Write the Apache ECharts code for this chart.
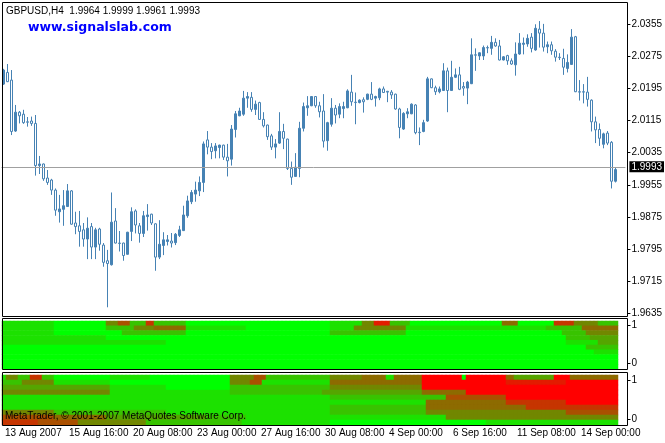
<!DOCTYPE html>
<html><head><meta charset="utf-8">
<script src="https://cdn.jsdelivr.net/npm/echarts@6/dist/echarts.min.js"></script>
<style>html,body{margin:0;padding:0;background:#fff}#c{width:665px;height:443px}</style>
</head><body><div id="c"></div>
<script>
// ---- data ----
const opens = [2.0206,2.0235,2.0216,2.0089,2.0136,2.0131,2.0112,2.0114,2.0108,2.0003,2.0007,1.9972,1.9967,1.9942,1.9888,1.9894,1.9901,1.9940,1.9860,1.9853,1.9843,1.9820,1.9851,1.9800,1.9845,1.9805,1.9766,1.9756,1.9865,1.9810,1.9810,1.9782,1.9839,1.9890,1.9853,1.9834,1.9876,1.9882,1.9858,1.9775,1.9804,1.9814,1.9815,1.9811,1.9829,1.9841,1.9878,1.9913,1.9932,1.9940,1.9961,2.0067,2.0049,2.0040,2.0048,2.0054,2.0024,2.0019,2.0093,2.0127,2.0131,2.0171,2.0173,2.0143,2.0160,2.0118,2.0104,2.0077,2.0049,2.0059,2.0088,2.0069,1.9996,1.9976,1.9996,2.0096,2.0147,2.0152,2.0175,2.0152,2.0139,2.0065,2.0106,2.0146,2.0131,2.0145,2.0147,2.0186,2.0161,2.0160,2.0167,2.0168,2.0181,2.0171,2.0172,2.0194,2.0188,2.0186,2.0181,2.0144,2.0094,2.0132,2.0132,2.0154,2.0086,2.0088,2.0114,2.0219,2.0197,2.0187,2.0190,2.0239,2.0190,2.0223,2.0229,2.0200,2.0196,2.0207,2.0279,2.0276,2.0276,2.0297,2.0295,2.0310,2.0301,2.0266,2.0277,2.0264,2.0254,2.0281,2.0305,2.0306,2.0323,2.0291,2.0343,2.0333,2.0299,2.0304,2.0288,2.0273,2.0270,2.0245,2.0255,2.0324,2.0187,2.0187,2.0186,2.0166,2.0112,2.0093,2.0056,2.0084,2.0061,1.9964];
const highs = [2.0244,2.0256,2.0241,2.0154,2.0139,2.0142,2.0124,2.0125,2.0129,2.0027,2.0008,1.9992,1.9970,1.9946,1.9930,1.9942,1.9957,1.9942,1.9888,1.9890,1.9860,1.9874,1.9860,1.9848,1.9848,1.9810,1.9793,1.9936,1.9897,1.9840,1.9811,1.9838,1.9899,1.9894,1.9860,1.9890,1.9907,1.9883,1.9859,1.9867,1.9837,1.9830,1.9835,1.9835,1.9853,1.9903,1.9928,1.9942,1.9963,1.9976,2.0063,2.0089,2.0059,2.0059,2.0055,2.0055,2.0057,2.0104,2.0139,2.0147,2.0189,2.0186,2.0186,2.0165,2.0162,2.0136,2.0105,2.0082,2.0069,2.0136,2.0107,2.0070,2.0013,2.0034,2.0112,2.0160,2.0176,2.0176,2.0176,2.0162,2.0181,2.0112,2.0171,2.0154,2.0158,2.0162,2.0193,2.0229,2.0185,2.0168,2.0173,2.0182,2.0211,2.0177,2.0197,2.0200,2.0189,2.0191,2.0182,2.0147,2.0136,2.0146,2.0158,2.0156,2.0098,2.0117,2.0224,2.0220,2.0202,2.0200,2.0258,2.0247,2.0264,2.0245,2.0249,2.0211,2.0214,2.0320,2.0295,2.0285,2.0302,2.0302,2.0326,2.0320,2.0316,2.0276,2.0279,2.0270,2.0310,2.0333,2.0322,2.0330,2.0333,2.0355,2.0363,2.0356,2.0312,2.0312,2.0293,2.0283,2.0294,2.0280,2.0343,2.0326,2.0216,2.0206,2.0224,2.0168,2.0125,2.0108,2.0085,2.0089,2.0064,1.9999];
const lows = [2.0204,2.0211,2.0079,2.0087,2.0108,2.0107,2.0100,2.0102,1.9978,1.9982,1.9965,1.9955,1.9930,1.9878,1.9861,1.9853,1.9900,1.9856,1.9832,1.9801,1.9801,1.9770,1.9770,1.9770,1.9791,1.9751,1.9650,1.9754,1.9809,1.9789,1.9766,1.9781,1.9815,1.9834,1.9811,1.9825,1.9841,1.9855,1.9741,1.9770,1.9780,1.9804,1.9799,1.9805,1.9825,1.9840,1.9873,1.9907,1.9913,1.9927,1.9937,2.0031,2.0019,2.0021,2.0021,2.0017,1.9976,2.0003,2.0073,2.0126,2.0127,2.0147,2.0137,2.0129,2.0117,2.0098,2.0067,2.0042,2.0021,2.0057,2.0044,1.9992,1.9955,1.9975,1.9974,2.0088,2.0127,2.0151,2.0147,2.0123,2.0048,2.0040,2.0100,2.0108,2.0121,2.0121,2.0146,2.0152,2.0106,2.0158,2.0135,2.0166,2.0166,2.0150,2.0166,2.0184,2.0161,2.0169,2.0142,2.0071,2.0092,2.0121,2.0131,2.0081,2.0054,2.0086,2.0112,2.0196,2.0179,2.0183,2.0189,2.0136,2.0189,2.0221,2.0191,2.0177,2.0156,2.0206,2.0239,2.0266,2.0266,2.0283,2.0279,2.0299,2.0265,2.0265,2.0254,2.0254,2.0227,2.0279,2.0280,2.0299,2.0285,2.0289,2.0297,2.0287,2.0283,2.0279,2.0262,2.0266,2.0229,2.0235,2.0254,2.0186,2.0165,2.0158,2.0150,2.0088,2.0059,2.0052,2.0046,2.0054,1.9946,1.9961];
const closes = [2.0241,2.0212,2.0088,2.0136,2.0127,2.0110,2.0111,2.0108,2.0003,2.0007,1.9970,1.9961,1.9942,1.9892,1.9895,1.9903,1.9940,1.9857,1.9851,1.9839,1.9820,1.9847,1.9800,1.9843,1.9807,1.9762,1.9759,1.9862,1.9810,1.9809,1.9779,1.9837,1.9888,1.9855,1.9834,1.9878,1.9880,1.9860,1.9775,1.9807,1.9818,1.9818,1.9810,1.9832,1.9843,1.9880,1.9915,1.9936,1.9942,1.9961,2.0057,2.0049,2.0038,2.0052,2.0054,2.0024,2.0015,2.0094,2.0132,2.0139,2.0171,2.0175,2.0143,2.0156,2.0118,2.0102,2.0075,2.0049,2.0057,2.0088,2.0071,1.9996,1.9974,1.9999,2.0096,2.0150,2.0152,2.0175,2.0152,2.0137,2.0064,2.0110,2.0146,2.0129,2.0150,2.0150,2.0189,2.0162,2.0160,2.0166,2.0162,2.0181,2.0168,2.0175,2.0194,2.0185,2.0186,2.0179,2.0144,2.0098,2.0133,2.0137,2.0156,2.0085,2.0085,2.0110,2.0219,2.0197,2.0187,2.0194,2.0239,2.0190,2.0223,2.0229,2.0193,2.0196,2.0211,2.0279,2.0278,2.0284,2.0297,2.0296,2.0310,2.0301,2.0266,2.0274,2.0264,2.0256,2.0281,2.0308,2.0308,2.0320,2.0295,2.0345,2.0333,2.0298,2.0304,2.0289,2.0273,2.0272,2.0248,2.0260,2.0323,2.0187,2.0186,2.0186,2.0168,2.0112,2.0092,2.0071,2.0082,2.0059,1.9964,1.9993];
const priceTicks = [1.9635,1.9715,1.9795,1.9875,1.9955,2.0035,2.0115,2.0195,2.0275,2.0355];
const xTickLabels = ['13 Aug 2007','15 Aug 16:00','20 Aug 08:00','23 Aug 00:00','27 Aug 16:00','30 Aug 08:00','4 Sep 00:00','6 Sep 16:00','11 Sep 08:00','14 Sep 00:00'];
const lastPrice = 1.9993;
const headerText = 'GBPUSD,H4  1.9964 1.9999 1.9961 1.9993';
const siteText = 'www.signalslab.com';
const copyText = 'MetaTrader, \u00a9 2001-2007 MetaQuotes Software Corp.';
const subTicks = [0, 1];
// heat levels 0 (green) .. 9 (red); one string per row, top row first, one digit per bar
const panel1Rows = [
 '1111111111 1110000000 0000004446 6622227722 2222220000 0000000000 0000000000 0000000000 0011111111 4448888222 2200000000 0000000000 0000055550 0000000077 7774444442 2222',
 '1111111111 1110000000 0000002222 2224444455 5555551111 1111111111 1000000000 0000000000 0011111144 4444444444 4111111111 1111111111 1111111111 1111112222 2222255555 5555',
 '1111111111 1110000000 0000000000 2222222222 2222220000 0000000000 0000000000 0000000000 0022222222 2222222222 2000000000 0000000000 0000000000 0000000000 2222224444 4444',
 '1111111111 1111111111 1111110000 0000000000 0000000000 0000000000 0000000000 0000000000 0000000000 0000000000 0000000000 0000000000 0000000000 0000000000 0222222333 3333',
 '1111111111 1111111111 1111111111 1111111111 1000000000 0000000000 0000000000 0000000000 0000000000 0000000000 0000000000 0000000000 0000000000 0000000000 0111111113 3333',
 '0000000000 0000000000 0000000000 0000000000 0000000000 0000000000 0000000000 0000000000 0000000000 0000000000 0000000000 0000000000 0000000000 0000000000 0000002222 2222',
 '0000000000 0000000000 0000000000 0000000000 0000000000 0000000000 0000000000 0000000000 0000000000 0000000000 0000000000 0000000000 0000000000 0000000000 0000000011 1111',
 '0000000000 0000000000 0000000000 0000000000 0000000000 0000000000 0000000000 0000000000 0000000000 0000000000 0000000000 0000000000 0000000000 0000000000 0000000000 0000',
 '0000000000 0000000000 0000000000 0000000000 0000000000 0000000000 0000000000 0000000000 0000000000 0000000000 0000000000 0000000000 0000000000 0000000000 0000000000 0000',
 '0000000000 0000000000 0000000000 0000000000 0000000000 0000000000 0000000000 0000000000 0000000000 0000000000 0000000000 0000000000 0000000000 0000000000 0000000000 0000'
];
const panel2Rows = [
 '1444222777 2220000000 0000000111 1111111000 0000000000 0000000444 4446662222 2222222222 2244444444 5555551155 5555599999 9999909999 9999995533 3333333399 9955555555 5555',
 '2222244444 4441111111 1111111000 0000000000 0000000000 0000000444 4466611111 1111111111 1155555555 5555555555 5555599999 9999999999 9999998888 8888888888 8999999999 9999',
 '3333333333 3333333333 3333333111 1111111111 1000000000 0000000222 2222222222 2222222222 2244444444 4444444444 4444499999 9999999999 9999999999 9999999999 9999999999 9999',
 '4444444444 4444444444 4444444111 1111111111 1111111111 1111111222 2222222222 2222222222 3333333333 3333333333 3333355555 5555559999 9999999999 9999999999 9999999999 9999',
 '1111111111 1111111111 1111111111 1111111111 1111111111 1111111111 1111111111 1111111111 1122222222 2222222222 2222222222 2666666666 6666669999 9999999999 9999999999 9999',
 '1111111111 1111111111 1111111111 1111111111 1111111111 1111111111 1111111111 1111111111 1111111111 1111111111 1111115555 5555555555 5555557777 7777777777 7999999999 9999',
 '1111111111 1111111111 1111111111 1111111111 1111111111 1111111111 1111111111 1111111111 1122222222 2222222222 2222225555 5555555555 5555555555 5777777777 7777777777 7777',
 '4444444444 4442222222 2222222222 2222222222 2111111111 1111111111 1111111111 1111111111 1122222222 2222222222 2222224444 4444444444 4444444444 4444444444 4666666666 6666',
 '6666666666 6665555555 5555553333 3333333333 3333333333 3222222222 2111111111 1111111111 1111111111 1111111111 1111111111 1444444444 4444444444 4444444444 4444444444 4444',
 '7777777776 6666666664 4444444444 4444442222 2222222222 2222222222 1111111111 1111111111 1100000000 0000000000 0000000000 0000000000 0111111111 1111111111 1111111111 1111'
];

// ---- fonts ----
function hasFont(f){const c=document.createElement('canvas').getContext('2d');c.font='20px monospace';const a=c.measureText('1.9955 Aug Sep').width;c.font='20px "'+f+'", monospace';return c.measureText('1.9955 Aug Sep').width!==a;}
const narrow = hasFont('Liberation Sans Narrow');
const FONT = narrow ? '"Liberation Sans Narrow", sans-serif' : '"Liberation Sans", sans-serif';
const FS = narrow ? 11 : 10;

// ---- build ----
const nBars = opens.length;
const cats = [];
for (let i = 0; i < nBars + 2; i++) cats.push(String(i));
const candleData = opens.map((o, i) => [o, closes[i], lows[i], highs[i]]);
function heatData(rows){
  const out = [];
  rows.forEach((r, ri) => { r.replace(/\s/g,'').split('').forEach((ch, ci) => out.push([ci, ri, +ch])); });
  return out;
}
const rowCats = panel1Rows.map((_, i) => String(i));

const chart = echarts.init(document.getElementById('c'), null, {renderer:'canvas'});
const labelStyle = {color:'#000', fontFamily:FONT, fontSize:FS};
chart.setOption({
  animation:false,
  backgroundColor:'#fff',
  grid:[
    {left:1.5, top:2, width:624, height:314},
    {left:2, top:321, width:624, height:48},
    {left:2, top:375, width:624, height:50}
  ],
  xAxis:[
    {type:'category', gridIndex:0, data:cats, show:false, boundaryGap:true},
    {type:'category', gridIndex:1, data:cats, show:false, boundaryGap:true},
    {type:'category', gridIndex:2, data:cats, boundaryGap:true,
      axisLine:{show:false},
      axisTick:{show:true, alignWithLabel:true, interval:15, length:4, inside:false, lineStyle:{color:'#000'}},
      axisLabel:Object.assign({interval:15, align:'left', margin:3, padding:[0,0,0,1],
        formatter:(v, idx) => (idx % 16 === 0 && xTickLabels[idx/16]) ? xTickLabels[idx/16] : ''}, labelStyle),
      splitLine:{show:false}}
  ],
  yAxis:[
    {type:'value', gridIndex:0, position:'right', offset:2, min:1.96283, max:2.04105, scale:true,
      axisLine:{show:false}, splitLine:{show:false},
      axisTick:{show:true, length:3, lineStyle:{color:'#000'}, customValues:priceTicks},
      axisLabel:Object.assign({margin:4, customValues:priceTicks, formatter:v => v.toFixed(4)}, labelStyle)},
    {type:'category', gridIndex:1, data:rowCats, inverse:true, show:false},
    {type:'value', gridIndex:1, position:'right', offset:1.5, min:-0.1488, max:1.1044,
      axisLine:{show:false}, splitLine:{show:false},
      axisTick:{show:true, length:3, lineStyle:{color:'#000'}, customValues:subTicks},
      axisLabel:Object.assign({margin:4, customValues:subTicks, formatter:v => String(v)}, labelStyle)},
    {type:'category', gridIndex:2, data:rowCats, inverse:true, show:false},
    {type:'value', gridIndex:2, position:'right', offset:1.5, min:-0.145, max:1.127,
      axisLine:{show:false}, splitLine:{show:false},
      axisTick:{show:true, length:3, lineStyle:{color:'#000'}, customValues:subTicks},
      axisLabel:Object.assign({margin:4, customValues:subTicks, formatter:v => String(v)}, labelStyle)}
  ],
  visualMap:{show:false, type:'continuous', min:0, max:9, seriesIndex:[1,2], dimension:2,
    inRange:{color:['#00ff00','#7f7800','#ff0000']}},
  series:[
    {type:'candlestick', xAxisIndex:0, yAxisIndex:0, data:candleData, barWidth:2,
      itemStyle:{color:'#4682b4', color0:'#ffffff', borderColor:'#4682b4', borderColor0:'#4682b4', borderWidth:1},
      markLine:{silent:true, symbol:'none', animation:false,
        lineStyle:{color:'#a0a0a0', width:1, type:'solid'},
        label:{show:true, position:'end', distance:4, formatter:lastPrice.toFixed(4), color:'#fff', backgroundColor:'#000',
          padding:[1,2,0,2], fontFamily:FONT, fontSize:FS},
        data:[{yAxis:lastPrice}]}},
    {type:'heatmap', xAxisIndex:1, yAxisIndex:1, data:heatData(panel1Rows), progressive:0, itemStyle:{borderWidth:0}, emphasis:{disabled:true}},
    {type:'heatmap', xAxisIndex:2, yAxisIndex:3, data:heatData(panel2Rows), progressive:0, itemStyle:{borderWidth:0}, emphasis:{disabled:true}}
  ],
  graphic:[
    {type:'rect', z:100, silent:true, shape:{x:2.5, y:2.5, width:625, height:314}, style:{fill:null, stroke:'#000', lineWidth:1}},
    {type:'rect', z:100, silent:true, shape:{x:2.5, y:318.5, width:625, height:51}, style:{fill:null, stroke:'#000', lineWidth:1}},
    {type:'rect', z:100, silent:true, shape:{x:2.5, y:372.5, width:625, height:53}, style:{fill:null, stroke:'#000', lineWidth:1}},
    {type:'text', z:101, silent:true, left:6, top:6, style:{text:headerText, fill:'#000', font:FS+'px '+FONT}},
    {type:'text', z:101, silent:true, left:28, top:21, style:{text:siteText, fill:'#0000ff', font:'bold 12.5px "DejaVu Sans", sans-serif'}},
    {type:'text', z:101, silent:true, left:5, top:411, style:{text:copyText, fill:'#000', font:FS+'px '+FONT}}
  ]
});
</script></body></html>
